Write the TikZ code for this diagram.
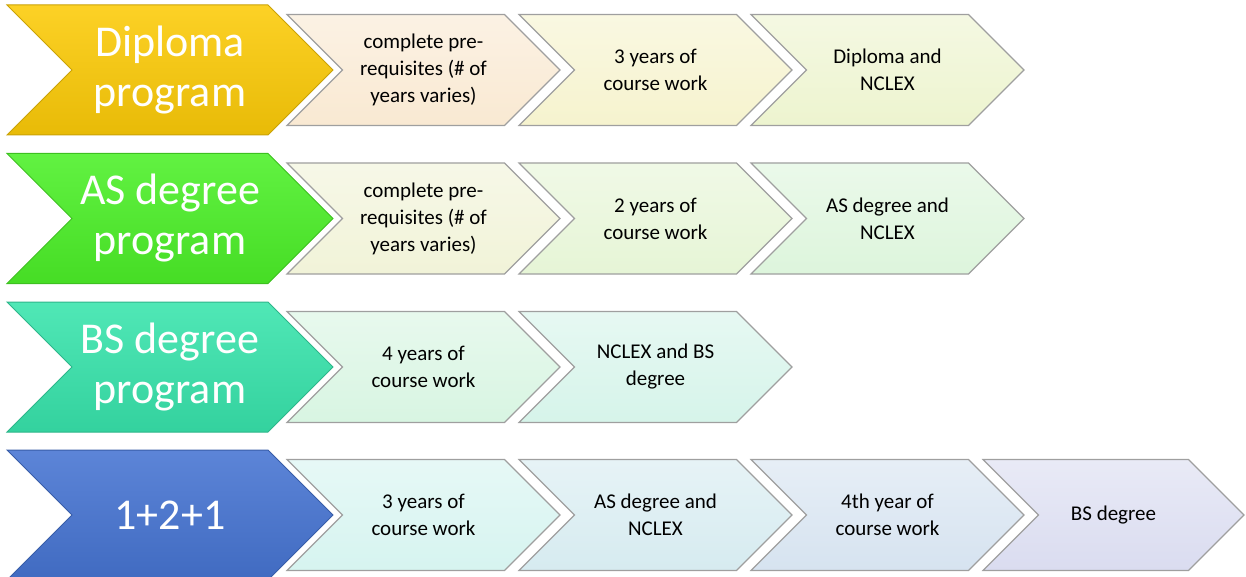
\documentclass[tikz,border=0pt]{standalone}
\usepackage{fontspec}
\setmainfont{Carlito}
\usetikzlibrary{shapes.symbols}
\definecolor{dipgold}{HTML}{FCCB08}
\definecolor{asgreen}{HTML}{4CF028}
\definecolor{bsteal}{HTML}{38E4AC}
\definecolor{otoblue}{HTML}{4674D2}
\definecolor{peach}{HTML}{F9E9D2}
\definecolor{cream}{HTML}{F6F3CE}
\definecolor{lime}{HTML}{EDF4CF}
\definecolor{palelime}{HTML}{F1F3D8}
\definecolor{palegreen}{HTML}{E6F5D6}
\definecolor{mint}{HTML}{DDF5DC}
\definecolor{seafoam}{HTML}{D8F5E2}
\definecolor{aqua}{HTML}{D6F4EA}
\definecolor{icecyan}{HTML}{D6F4F0}
\definecolor{iceblue}{HTML}{D6EBF0}
\definecolor{skyblue}{HTML}{D6E3F0}
\definecolor{lavender}{HTML}{DADCF0}
\begin{document}
\begin{tikzpicture}[x=1pt, y=-1pt,
        every node/.style={shape=signal, signal from=west, signal to=east,
            signal pointer angle=90, inner sep=0pt, align=center},
        bigsig/.style={minimum width=326pt, minimum height=130pt, text=white,
            font=\fontsize{44}{50}\selectfont, draw=#1!80!black, line width=1pt,
            top color=#1!88!white, bottom color=#1!92!black},
        smallsig/.style={minimum width=273pt, minimum height=111pt,
            font=\fontsize{21}{27}\selectfont, draw=gray!75, line width=1.2pt,
            top color=#1!60!white, bottom color=#1}]
        \useasboundingbox (0,0) rectangle (1246,577);
        \def \rowa {70}
        \def \rowb {218.5}
        \def \rowc {367}
        \def \rowd {515}
        % programs
        \node[bigsig=dipgold] (dip) at (170, \rowa) {Diploma\\program};
        \node[bigsig=asgreen] (as) at (170, \rowb) {AS degree\\program};
        \node[bigsig=bsteal] (bs) at (170, \rowc) {BS degree\\program};
        \node[bigsig=otoblue] (oto) at (170, \rowd) {1+2+1};
        % diploma
        \node[smallsig=peach] (dip1) at (423.5, \rowa) {complete pre-\\requisites (\# of\\years varies)};
        \node[smallsig=cream] (dip2) at (655.5, \rowa) {3 years of\\course work};
        \node[smallsig=lime] (dip3) at (887.5, \rowa) {Diploma and\\NCLEX};
        % AS degree
        \node[smallsig=palelime] (as1) at (423.5, \rowb) {complete pre-\\requisites (\# of\\years varies)};
        \node[smallsig=palegreen] (as2) at (655.5, \rowb) {2 years of\\course work};
        \node[smallsig=mint] (as3) at (887.5, \rowb) {AS degree and\\NCLEX};
        % BS degree
        \node[smallsig=seafoam] (bs1) at (423.5, \rowc) {4 years of\\course work};
        \node[smallsig=aqua] (bs2) at (655.5, \rowc) {NCLEX and BS\\degree};
        % 1+2+1
        \node[smallsig=icecyan] (oto1) at (423.5, \rowd) {3 years of\\course work};
        \node[smallsig=iceblue] (oto2) at (655.5, \rowd) {AS degree and\\NCLEX};
        \node[smallsig=skyblue] (oto3) at (887.5, \rowd) {4th year of\\course work};
        \node[smallsig=lavender, minimum width=261pt] (oto4) at (1113.5, \rowd) {BS degree};
    \end{tikzpicture}
\end{document}
